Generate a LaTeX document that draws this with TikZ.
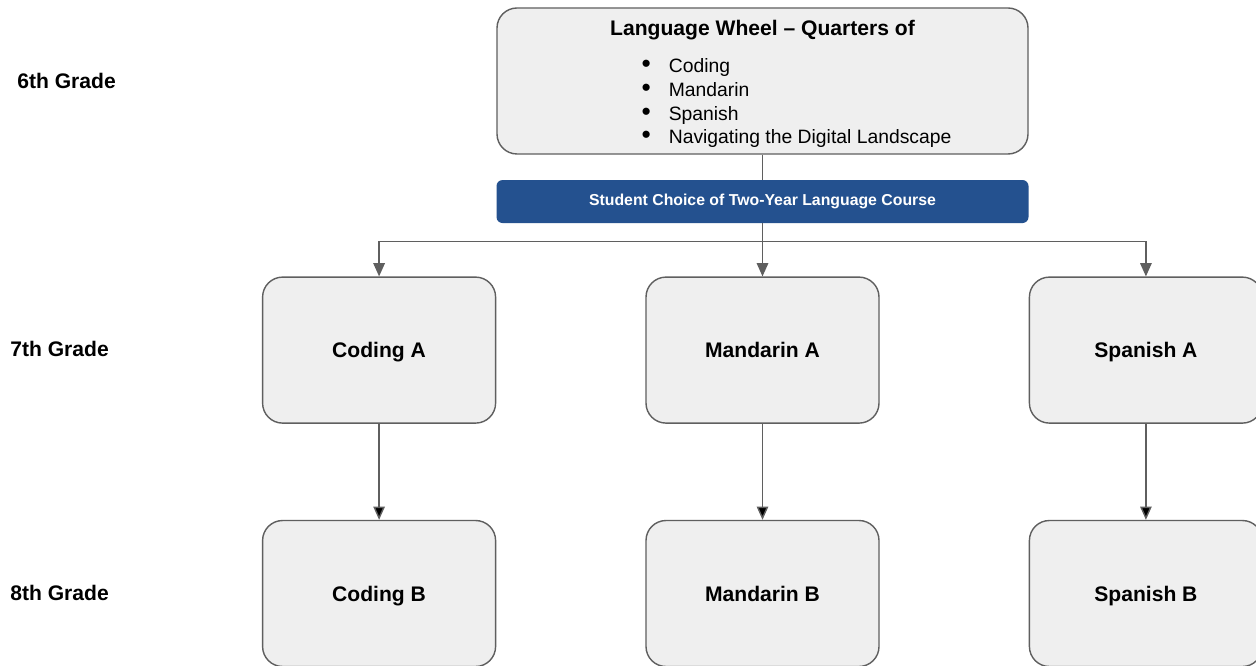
\documentclass[tikz,border=0pt]{standalone}
\usepackage{fontspec}
\setmainfont{Liberation Sans}
\usetikzlibrary{arrows.meta}
\usetikzlibrary{positioning}
\definecolor{boxfill}{HTML}{EFEFEF}
\definecolor{boxline}{HTML}{5F5F5F}
\definecolor{choiceblue}{HTML}{24518F}
\definecolor{linkgray}{HTML}{5F5F5F}
\begin{document}
\begin{tikzpicture}[>={Triangle[length=7.5pt,width=6.5pt]}]
        \tikzset{rbox/.style={draw=boxline, line width=0.8pt, fill=boxfill, rounded corners=0.4cm, align=center,
                minimum height=2.92cm},
        course/.style={rbox, minimum width=4.66cm, text height=10pt, text depth=1.4pt,
                font=\fontsize{12}{14}\selectfont\bfseries},
        wheelbox/.style={rbox, minimum width=10.62cm, inner ysep=0pt, font=\fontsize{11}{13.5}\selectfont},
        choice/.style={fill=choiceblue, rounded corners=0.12cm, text=white, align=center,
                minimum width=10.64cm, minimum height=0.86cm, font=\fontsize{9}{11}\selectfont\bfseries},
        grade/.style={anchor=west, inner sep=0pt, font=\fontsize{12}{14}\selectfont\bfseries},
        link/.style={draw=linkgray, line width=0.8pt}
        }
        \useasboundingbox[fill=white] (0,0) rectangle (25.12,-13.32);
        \node [wheelbox] (wheel) at (15.25,-1.62) {\raisebox{-2.3pt}[\height][\depth]{\begin{tabular}{@{}c@{}}
                {\fontsize{12}{14}\selectfont\bfseries Language Wheel – Quarters of}\\[7.5pt]
                \hspace*{1.36cm}\begin{tabular}{@{}l@{\hspace{0.36cm}}l@{}}
                {\fontsize{15}{13.5}\selectfont •}&Coding\\ {\fontsize{15}{13.5}\selectfont •}&Mandarin\\
                {\fontsize{15}{13.5}\selectfont •}&Spanish\\ {\fontsize{15}{13.5}\selectfont •}&Navigating the Digital Landscape
                \end{tabular}\end{tabular}}};
        \node [choice, below =0.5cm of wheel] (choice) {Student Choice of Two-Year Language Course};
        \node [course, below =1.06cm of choice] (mandA) {Mandarin A};
        \node [course, left =2.98cm of mandA] (codA) {Coding A};
        \node [course, right =2.98cm of mandA] (spanA) {Spanish A};
        \node [course, below =1.92cm of mandA] (mandB) {Mandarin B};
        \node [course, below =1.92cm of codA] (codB) {Coding B};
        \node [course, below =1.92cm of spanA] (spanB) {Spanish B};
        \node [coordinate, below =0.36cm of choice] (split) {};  %% branch point under the choice bar
        \node [grade] (six) at (0.34,-1.62) {6th Grade};
        \node [grade] (seven) at (0.2,-6.98) {7th Grade};
        \node [grade] (eight) at (0.2,-11.86) {8th Grade};

%% paths
        \path[link] (wheel) -- (choice)
                    (choice) -- (split);
        \path[link,->] (split) -| (codA);
        \path[link,->] (split) -- (mandA);
        \path[link,->] (split) -| (spanA);
        \path[link,->] (codA) edge (codB)
                    (mandA) edge (mandB)
                    (spanA) edge (spanB);
\end{tikzpicture}
\end{document}
